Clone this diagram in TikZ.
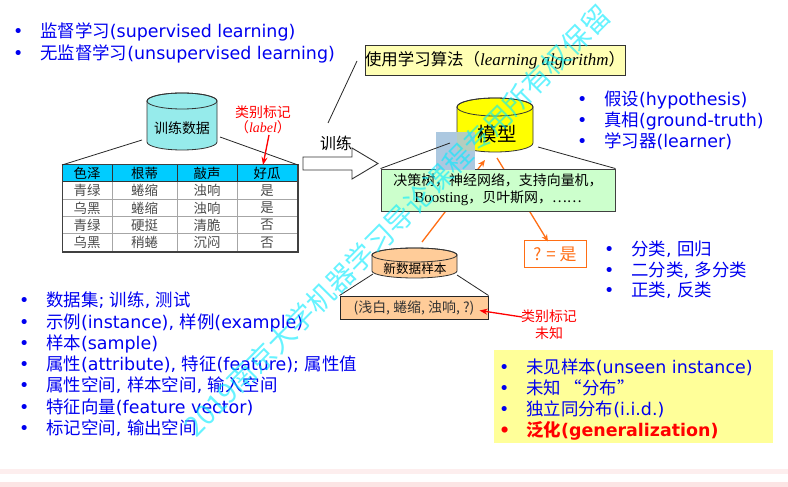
\documentclass[tikz,border=0pt]{standalone}
\usepackage{fontspec}
\setmainfont{Noto Sans CJK SC}
\newfontfamily\enfont{DejaVu Sans}
\newfontfamily\rmlat{Liberation Serif}
\usetikzlibrary{arrows.meta}

\definecolor{txtblue}{RGB}{0,0,240}
\definecolor{boxyellow}{RGB}{255,255,180}
\definecolor{noteyellow}{RGB}{255,255,153}
\definecolor{hdrcyan}{RGB}{0,204,255}
\definecolor{drumcyan}{RGB}{150,235,235}
\definecolor{modelyellow}{RGB}{255,255,0}
\definecolor{mintgreen}{RGB}{204,255,204}
\definecolor{peach}{RGB}{255,204,153}
\definecolor{orangeA}{RGB}{255,110,20}
\definecolor{patchblue}{RGB}{172,200,224}
\definecolor{patchmix}{RGB}{182,205,190}
\definecolor{stripeA}{RGB}{253,238,238}
\definecolor{stripeB}{RGB}{252,228,228}
\definecolor{wmcyan}{RGB}{0,235,255}

\newcommand\en[1]{{\enfont #1}}
\newcommand\bul{\makebox[27bp][l]{\enfont •}}

% cylinder: centre x, top y, bottom y, x radius, y radius, fill
\newcommand\drum[6]{%
  \filldraw[fill=#6, draw=black!80, line width=0.8bp]
    (#1-#4,#2+#5) -- (#1-#4,#3-#5)
    arc[start angle=180, end angle=360, x radius=#4bp, y radius=#5bp]
    -- (#1+#4,#2+#5)
    arc[start angle=0, end angle=180, x radius=#4bp, y radius=#5bp] -- cycle;
  \draw[black!80, line width=0.8bp] (#1,#2+#5) ellipse[x radius=#4bp, y radius=#5bp];}

\tikzset{
  bl/.style={anchor=base west, inner sep=0pt, text=txtblue,
    font=\fontsize{17.5}{21}\selectfont},
  cell/.style={inner sep=0pt, font=\fontsize{13.5}{14}\selectfont},
  thinline/.style={draw=black!85, line width=0.8bp},
  redarr/.style={draw=red, line width=1.3bp, -{Stealth[length=8bp,width=6bp]}},
  orarr/.style={draw=orangeA, line width=1.3bp, -{Stealth[length=7bp,width=6bp]}},
  redlab/.style={inner sep=0pt, text=red, font=\fontsize{14}{16}\selectfont},
}

\begin{document}
\begin{tikzpicture}[x=1bp,y=-1bp]
\useasboundingbox (0,0) rectangle (788,487);
\fill[white] (0,0) rectangle (788,487);

% footer stripes
\fill[stripeA] (0,469) rectangle (788,474);
\fill[stripeB] (0,481.5) rectangle (788,487);

% learning paradigms
\node[bl] (sup) at (13,38) {\bul 监督学习\en{(supervised learning)}};
\node[bl] (unsup) at (13,60) {\bul 无监督学习\en{(unsupervised learning)}};

% model terms
\node[bl] (hyp) at (577,106) {\bul 假设\en{(hypothesis)}};
\node[bl] (gt) at (577,127) {\bul 真相\en{(ground-truth)}};
\node[bl] (lrn) at (577,148) {\bul 学习器\en{(learner)}};

% task kinds
\node[bl] (cls) at (604,256) {\bul 分类\en{, }回归};
\node[bl] (bin) at (604,277) {\bul 二分类\en{, }多分类};
\node[bl] (pol) at (604,297) {\bul 正类\en{, }反类};

% data terms
\node[bl] (t1) at (19,307) {\bul 数据集\en{; }训练\en{, }测试};
\node[bl] (t2) at (19,328.2) {\bul 示例\en{(instance), }样例\en{(example)}};
\node[bl] (t3) at (19,349.4) {\bul 样本\en{(sample)}};
\node[bl] (t4) at (19,370.6) {\bul 属性\en{(attribute), }特征\en{(feature); }属性值};
\node[bl] (t5) at (19,391.8) {\bul 属性空间\en{, }样本空间\en{, }输入空间};
\node[bl] (t6) at (19,413) {\bul 特征向量\en{(feature vector)}};
\node[bl] (t7) at (19,434.2) {\bul 标记空间\en{, }输出空间};

% generalization note
\fill[noteyellow] (494,350) rectangle (773,443);
\node[bl] (unseen) at (499,373) {\bul 未见样本\en{(unseen instance)}};
\node[bl] (dist) at (499,394) {\bul 未知 “分布”};
\node[bl] (iid) at (499,415) {\bul 独立同分布\en{(i.i.d.)}};
\node[bl, text=red, font=\fontsize{17.5}{21}\selectfont\bfseries] (gen) at (499,436)
  {\bul 泛化\en{(generalization)}};

% training data table
\node[draw=black!75, line width=1bp, minimum width=235bp, minimum height=86bp,
      anchor=north west, inner sep=0pt] (tbl) at (62,165) {};
\fill[hdrcyan] (62,165) rectangle (297,182);
\foreach \yy in {199.25,216.5,233.75} \draw[black!35, line width=0.8bp] (62,\yy) -- (297,\yy);
\foreach \xx in {112,177,237} {
  \draw[black!35, line width=0.8bp] (\xx,182) -- (\xx,251);
  \draw[black!80, line width=0.8bp] (\xx,165) -- (\xx,182);
}
\draw[black!80, line width=1bp] (62,182) -- (297,182);
\draw[black!75, line width=1bp] (tbl.north west) rectangle (tbl.south east);
\foreach \t/\x [count=\c] in {色泽/87, 根蒂/144.5, 敲声/207, 好瓜/267}
  \node[cell] (hdr\c) at (\x,173.5) {\t};
\foreach \t/\x [count=\c] in {青绿/87, 蜷缩/144.5, 浊响/207, 是/267}
  \node[cell, text=black!70] (ra\c) at (\x,190.6) {\t};
\foreach \t/\x [count=\c] in {乌黑/87, 蜷缩/144.5, 浊响/207, 是/267}
  \node[cell, text=black!70] (rb\c) at (\x,207.9) {\t};
\foreach \t/\x [count=\c] in {青绿/87, 硬挺/144.5, 清脆/207, 否/267}
  \node[cell, text=black!70] (rc\c) at (\x,225.1) {\t};
\foreach \t/\x [count=\c] in {乌黑/87, 稍蜷/144.5, 沉闷/207, 否/267}
  \node[cell, text=black!70] (rd\c) at (\x,242.4) {\t};

% training data cylinder
\drum{182}{93}{150}{35}{8}{drumcyan}
\node[inner sep=0pt, font=\fontsize{14}{16}\selectfont] (tdata) at (182,128) {训练数据};
\coordinate (tdL) at (142,140);
\coordinate (tdR) at (220,137);
\draw[thinline] (tdL) -- (tbl.north west);
\draw[thinline] (tdR) -- (tbl.north east);

% label annotation
\node[redlab] (lab1) at (263,112) {类别标记};
\node[redlab] (lab2) at (263,127) {（{\rmlat\itshape label}）};
\coordinate (labTip) at (263,165);
\coordinate (labTail) at (269,135);
\draw[redarr] (labTail) -- (labTip);

% learning algorithm box
\node[draw=black!80, fill=boxyellow, line width=0.9bp, minimum width=260bp,
      minimum height=30bp, inner sep=0pt, font=\fontsize{16.5}{18}\selectfont]
      (algo) at (495,60) {使用学习算法（{\rmlat\itshape\fontsize{17}{18}\selectfont learning algorithm}）};
\coordinate (algoTail) at (357,61);
\coordinate (trainTop) at (328,123);
\draw[thinline] (algoTail) -- (trainTop);

% training arrow
\node[inner sep=0pt, font=\fontsize{16}{18}\selectfont] (train) at (336,143) {训练};
\draw[black!80, fill=white, line width=0.9bp]
  (303,157) -- (352,157) -- (352,148) -- (378,163.5) -- (352,179) -- (352,170) -- (303,170) -- cycle;

% model cylinder
\drum{495}{98}{152}{38}{9}{modelyellow}
\node[inner sep=0pt, font=\fontsize{19.5}{20}\selectfont] (model) at (497,134) {模型};
\coordinate (mdL) at (450,143);
\coordinate (mdR) at (538,147);

% new sample cylinder
\drum{414.5}{248}{278}{42.5}{7}{peach}
\node[inner sep=0pt, font=\fontsize{12.7}{14}\selectfont] (newdata) at (415,269) {新数据样本};

% prediction flow
\coordinate (inTail) at (422,242);
\coordinate (inTip) at (485,160);
\coordinate (outTail) at (497,158);
\draw[orarr] (inTail) -- (inTip);
\node[draw=orangeA, fill=white, line width=1bp, minimum width=62bp, minimum height=27bp,
      inner sep=0pt, text=orangeA, font=\fontsize{17}{18}\selectfont] (pred) at (555,254.5)
      {? = 是};
\draw[orarr] (outTail) -- ([xshift=-7bp,yshift=-1bp]pred.north);

% hypothesis space box
\node[draw=black!75, fill=mintgreen, line width=0.9bp, minimum width=234bp,
      minimum height=42bp, inner sep=0pt, align=center,
      font=\fontsize{14}{17}\selectfont] (hspace) at (498,190)
      {决策树，神经网络，支持向量机，\\{\rmlat\fontsize{15}{17}\selectfont Boosting}，贝叶斯网，……};
\draw[thinline] (mdR) -- (hspace.north east);

% pale blue patch over the model's corner
\fill[patchblue] (436,132) rectangle (475,170);
\fill[patchmix] (457,132) rectangle (475,151);
\draw[thinline] (mdL) -- (hspace.north west);

% new sample record
\node[draw=black!85, fill=peach, line width=1bp, minimum width=148bp, minimum height=23bp,
      inner sep=0pt, text=black!80, font=\fontsize{14}{16}\selectfont] (rec) at (414,307.5)
      {(浅白, 蜷缩, 浊响, ?)};
\coordinate (ndL) at (373,274);
\coordinate (ndR) at (457,275);
\draw[thinline] (ndL) -- (rec.north west);
\draw[thinline] (ndR) -- (rec.north east);

% unknown label annotation
\node[redlab] (unk1) at (549,316) {类别标记};
\node[redlab] (unk2) at (549,333) {未知};
\coordinate (unkTail) at (522,317);
\draw[redarr] (unkTail) -- ([xshift=-9bp,yshift=-3bp]rec.east);

% watermark
\node[rotate=45.3, text=wmcyan, opacity=0.6, inner sep=0pt,
      font=\fontsize{28}{28}\selectfont] (wm) at (397,221)
      {2019南京大学机器学习导论课程专用所有权保留};
\end{tikzpicture}
\end{document}
